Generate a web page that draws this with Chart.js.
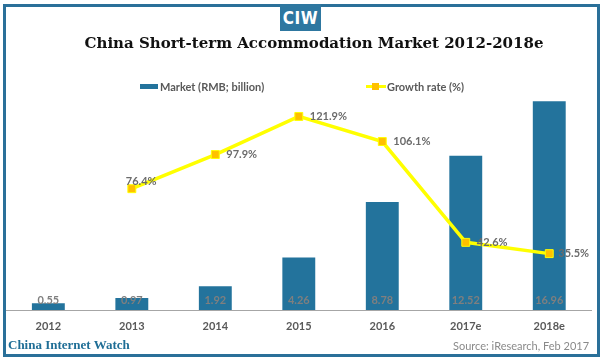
<!DOCTYPE html>
<html>
<head>
<meta charset="utf-8">
<script src="https://cdn.jsdelivr.net/npm/chart.js@4.4.1/dist/chart.umd.min.js"></script>
<style>
  html, body { margin: 0; padding: 0; background: #fff; }
  #wrap { position: relative; width: 600px; height: 359px; overflow: hidden; background: #fff; }
  #frame { position: absolute; left: 3px; top: 4px; width: 591px; height: 347px; border: 3px solid #2a7099; box-sizing: content-box; pointer-events: none; }
  #logo { position: absolute; left: 280px; top: 4px; width: 41px; height: 27px; background: #2e77a0; color: #fff;
          font: bold 17px "Liberation Sans Narrow", "DejaVu Sans Condensed", sans-serif; text-align: center; line-height: 28px; letter-spacing: 0.5px; }
  #title { position: absolute; left: 0; width: 628px; top: 34px; text-align: center; font: bold 15px "DejaVu Serif", "Liberation Serif", serif; color: #111; white-space: nowrap; }
  #chartBox { position: absolute; left: 0; top: 0; width: 600px; height: 359px; }
  .leg { position: absolute; font: bold 11px Lato, "DejaVu Sans", sans-serif; color: #595959; white-space: nowrap; }
  #sw1 { position: absolute; left: 140px; top: 84px; width: 18px; height: 5px; background: #23739c; }
  #sw2l { position: absolute; left: 366px; top: 85px; width: 20px; height: 3px; background: #ffff00; }
  #sw2m { position: absolute; left: 372px; top: 83px; width: 7px; height: 7px; background: #ffc000; }
  #foot1 { position: absolute; left: 8px; top: 337px; font: bold 13px "Liberation Serif", "DejaVu Serif", serif; color: #1f6e96; white-space: nowrap; }
  #foot2 { position: absolute; left: 453px; top: 339px; font: 11px Lato, "DejaVu Sans", sans-serif; color: #8a8a8a; white-space: nowrap; }
</style>
</head>
<body>
<div id="wrap">
  <div id="chartBox"><canvas id="c" width="600" height="359"></canvas></div>
  <div id="frame"></div>
  <div id="logo">CIW</div>
  <div id="title">China Short-term Accommodation Market 2012-2018e</div>
  <div id="sw1"></div>
  <div class="leg" style="left:160px; top:80px;">Market (RMB; billion)</div>
  <div id="sw2l"></div><div id="sw2m"></div>
  <div class="leg" style="left:387px; top:80px;">Growth rate (%)</div>
  <div id="foot1">China Internet Watch</div>
  <div id="foot2">Source: iResearch, Feb 2017</div>
</div>
<script>
const categories = ["2012", "2013", "2014", "2015", "2016", "2017e", "2018e"];
const marketValues = [0.55, 0.97, 1.92, 4.26, 8.78, 12.52, 16.96];
const growthRates = [null, 76.4, 97.9, 121.9, 106.1, 42.6, 35.5];
const seriesNames = ["Market (RMB; billion)", "Growth rate (%)"];

const labelPlugin = {
  id: 'valueLabels',
  afterDatasetsDraw(chart) {
    const ctx = chart.ctx;
    ctx.save();
    const barMeta = chart.getDatasetMeta(0);
    const base = chart.scales.x.top;
    ctx.font = 'bold 11px Lato, "DejaVu Sans", sans-serif';
    ctx.fillStyle = '#7f7f7f';
    ctx.textAlign = 'center';
    ctx.textBaseline = 'middle';
    barMeta.data.forEach((el, i) => {
      ctx.fillText(marketValues[i].toFixed(2), el.x, base - 10);
    });
    const lineMeta = chart.getDatasetMeta(1);
    ctx.fillStyle = '#6b6b6b';
    ctx.textAlign = 'left';
    lineMeta.data.forEach((el, i) => {
      const v = growthRates[i];
      if (v === null || v === undefined) return;
      let dx = 11, dy = 0;
      if (i === 1) { dx = -6; dy = -7; }
      if (i === 6) { dx = 9; }
      ctx.fillText(v.toFixed(1) + '%', el.x + dx, el.y + dy);
    });
    ctx.restore();
  }
};

new Chart(document.getElementById('c'), {
  type: 'bar',
  data: {
    labels: categories,
    datasets: [
      {
        type: 'bar',
        label: seriesNames[0],
        data: marketValues,
        backgroundColor: '#23739c',
        borderWidth: 0,
        categoryPercentage: 1.0,
        barPercentage: 0.394,
        yAxisID: 'y',
        order: 2
      },
      {
        type: 'line',
        label: seriesNames[1],
        data: growthRates,
        borderColor: '#ffff00',
        borderWidth: 3.5,
        pointStyle: 'rect',
        pointRadius: 5.6,
        pointBackgroundColor: '#ffc000',
        pointBorderColor: '#ffff00',
        pointBorderWidth: 1,
        tension: 0,
        yAxisID: 'y1',
        order: 1
      }
    ]
  },
  options: {
    responsive: false,
    animation: false,
    devicePixelRatio: 1,
    layout: { padding: { left: 5, right: 9, top: 95, bottom: 17 } },
    plugins: {
      legend: { display: false },
      tooltip: { enabled: false },
      title: { display: false }
    },
    scales: {
      x: {
        type: 'category',
        offset: true,
        grid: { display: false, drawTicks: false },
        border: { display: true, color: '#a6a6a6', width: 1 },
        ticks: { color: '#595959', font: { family: 'Lato, "DejaVu Sans", sans-serif', size: 11, weight: 'bold' }, padding: 9.4 }
      },
      y: { display: false, min: 0, max: 17.46 },
      y1: { display: false, min: 0, max: 135.4, position: 'right' }
    }
  },
  plugins: [labelPlugin]
});
</script>
</body>
</html>
